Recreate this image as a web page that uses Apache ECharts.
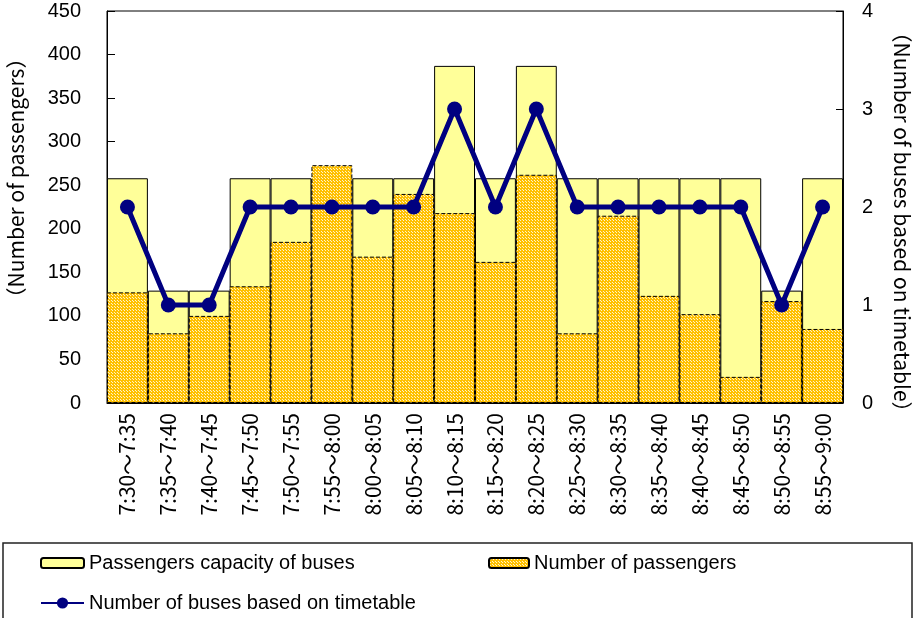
<!DOCTYPE html>
<html>
<head>
<meta charset="utf-8">
<script src="https://cdn.jsdelivr.net/npm/echarts@6/dist/echarts.min.js"></script>
<style>
  html, body { margin: 0; padding: 0; background: #fff; }
  #chart { width: 914px; height: 618px; }
</style>
</head>
<body>
<div id="chart"></div>
<script>
// Five-minute time slots in the morning peak
const categories = [
  '7:30〜7:35', '7:35〜7:40', '7:40〜7:45', '7:45〜7:50', '7:50〜7:55', '7:55〜8:00',
  '8:00〜8:05', '8:05〜8:10', '8:10〜8:15', '8:15〜8:20', '8:20〜8:25', '8:25〜8:30',
  '8:30〜8:35', '8:35〜8:40', '8:40〜8:45', '8:45〜8:50', '8:50〜8:55', '8:55〜9:00'
];
// Seats offered by the scheduled buses in each slot
const capacity = [258, 129, 129, 258, 258, 258, 258, 258, 387, 258, 387, 258, 258, 258, 258, 258, 129, 258];
// Passengers counted in each slot
const passengers = [127, 80, 100, 134, 185, 273, 168, 240, 218, 162, 262, 80, 215, 123, 102, 30, 117, 85];
// Buses in the timetable for each slot
const buses = [2, 1, 1, 2, 2, 2, 2, 2, 3, 2, 3, 2, 2, 2, 2, 2, 1, 2];

const leftTicks = { min: 0, max: 450, step: 50 };
const rightTicks = { min: 0, max: 4, step: 1 };

const FONT = '"Liberation Sans", Arial, "Noto Sans CJK JP", sans-serif';
const CJK = '"Noto Sans CJK JP", "Liberation Sans", sans-serif';

// Dotted orange fill for the passenger bars
function dotPattern() {
  const c = document.createElement('canvas');
  c.width = 3; c.height = 3;
  const g = c.getContext('2d');
  g.fillStyle = '#FFC000';
  g.fillRect(0, 0, 3, 3);
  g.fillStyle = '#FFF4C8';
  g.fillRect(1, 1, 1, 1);
  g.fillRect(0, 0, 1, 1);
  return c;
}
const orangeFill = { image: dotPattern(), repeat: 'repeat' };

const chart = echarts.init(document.getElementById('chart'), null, { renderer: 'canvas' });

const legendText = { fontSize: 20, color: '#000', fontFamily: FONT };

chart.setOption({
  animation: false,
  backgroundColor: '#fff',
  textStyle: { fontFamily: FONT },
  grid: {
    left: 107, right: 71, top: 11, bottom: 215,
    show: true, borderColor: '#000', borderWidth: 1
  },
  legend: [
    {
      data: ['Passengers capacity of buses'],
      left: 40, top: 553, itemWidth: 43, itemHeight: 10, itemGap: 0,
      textStyle: legendText, padding: 0
    },
    {
      data: ['Number of passengers'],
      left: 488, top: 553, itemWidth: 40, itemHeight: 10, itemGap: 0,
      textStyle: legendText, padding: 0
    },
    {
      data: ['Number of buses based on timetable'],
      left: 40, top: 593, itemWidth: 43, itemHeight: 14, itemGap: 0,
      textStyle: legendText, padding: 0
    }
  ],
  xAxis: {
    type: 'category',
    data: categories,
    boundaryGap: true,
    axisLine: { lineStyle: { color: '#000', width: 1 } },
    axisTick: { show: false },
    axisLabel: {
      rotate: 90, interval: 0, margin: 10,
      fontSize: 21, color: '#000', fontFamily: CJK
    }
  },
  yAxis: [
    {
      type: 'value',
      min: leftTicks.min, max: leftTicks.max, interval: leftTicks.step,
      axisLine: { show: true, lineStyle: { color: '#000' } },
      axisTick: { show: true, inside: true, length: 8, lineStyle: { color: '#000' } },
      splitLine: { show: false },
      axisLabel: { fontSize: 20, color: '#000', margin: 26, fontFamily: FONT }
    },
    {
      type: 'value',
      position: 'right',
      min: rightTicks.min, max: rightTicks.max, interval: rightTicks.step,
      axisLine: { show: true, lineStyle: { color: '#000' } },
      axisTick: { show: true, inside: true, length: 7, lineStyle: { color: '#000' } },
      splitLine: { show: false },
      axisLabel: { fontSize: 20, color: '#000', margin: 19, fontFamily: FONT }
    }
  ],
  graphic: [
    {
      type: 'text', x: 16, y: 178, rotation: Math.PI / 2,
      style: {
        text: '（Number of passengers）', fontSize: 21, fill: '#000',
        fontFamily: CJK, align: 'center', verticalAlign: 'middle'
      }
    },
    {
      type: 'text', x: 902, y: 222, rotation: -Math.PI / 2,
      style: {
        text: '（Number of buses based on timetable）', fontSize: 21, fill: '#000',
        fontFamily: CJK, align: 'center', verticalAlign: 'middle'
      }
    },
    {
      type: 'rect', z: -1,
      shape: { x: 3, y: 543, width: 909, height: 90 },
      style: { fill: 'none', stroke: '#222', lineWidth: 1.5 }
    }
  ],
  series: [
    {
      name: 'Passengers capacity of buses',
      type: 'bar',
      data: capacity,
      barWidth: '100%',
      barGap: '-100%',
      barCategoryGap: 0,
      itemStyle: { color: '#FFFF99', borderColor: '#000', borderWidth: 1 },
      z: 2
    },
    {
      name: 'Number of passengers',
      type: 'bar',
      data: passengers,
      barWidth: '100%',
      barGap: '-100%',
      itemStyle: { color: orangeFill, borderColor: '#000', borderWidth: 1, borderType: 'dashed' },
      z: 3
    },
    {
      name: 'Number of buses based on timetable',
      type: 'line',
      yAxisIndex: 1,
      data: buses,
      symbol: 'circle',
      symbolSize: 15,
      lineStyle: { color: '#000080', width: 5 },
      itemStyle: { color: '#000080' },
      z: 5
    }
  ]
});
</script>
</body>
</html>
